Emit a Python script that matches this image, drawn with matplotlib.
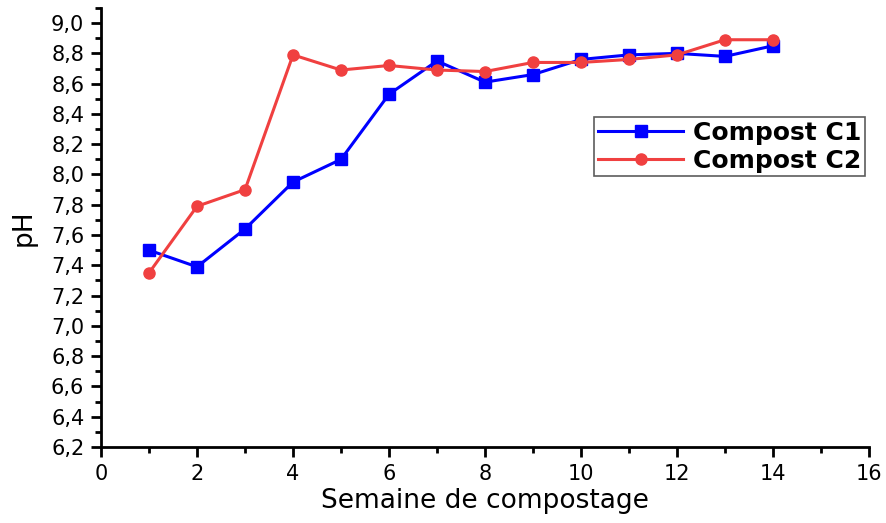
import matplotlib.pyplot as plt
from matplotlib.ticker import MultipleLocator, FuncFormatter

plt.rcParams['font.family'] = ['DejaVu Sans']

semaines = [1, 2, 3, 4, 5, 6, 7, 8, 9, 10, 11, 12, 13, 14]
ph_c1 = [7.50, 7.39, 7.64, 7.95, 8.10, 8.53, 8.75, 8.61, 8.66, 8.76, 8.79, 8.80, 8.78, 8.85]
ph_c2 = [7.35, 7.79, 7.90, 8.79, 8.69, 8.72, 8.69, 8.68, 8.74, 8.74, 8.76, 8.79, 8.89, 8.89]

fig = plt.figure(figsize=(8.87, 5.23), dpi=100)
ax = fig.add_axes([0.1139, 0.1453, 0.8658, 0.8395])

ax.plot(semaines, ph_c1, color='#0000ff', marker='s', markersize=8.5, linewidth=2.2,
        label='Compost C1')
ax.plot(semaines, ph_c2, color='#f04040', marker='o', markersize=8, linewidth=2.2,
        label='Compost C2')

ax.set_xlim(0, 16)
ax.set_ylim(6.2, 9.1)
ax.xaxis.set_major_locator(MultipleLocator(2))
ax.xaxis.set_minor_locator(MultipleLocator(1))
ax.yaxis.set_major_locator(MultipleLocator(0.2))
ax.yaxis.set_minor_locator(MultipleLocator(0.1))
ax.yaxis.set_major_formatter(FuncFormatter(lambda v, p: f'{v:.1f}'.replace('.', ',')))

for s in ['top', 'right']:
    ax.spines[s].set_visible(False)
for s in ['left', 'bottom']:
    ax.spines[s].set_linewidth(2)

ax.tick_params(which='major', direction='out', length=7, width=2, labelsize=15, pad=5)
ax.tick_params(which='minor', direction='out', length=4, width=2)

ax.set_xlabel('Semaine de compostage', fontsize=19, labelpad=3)
ax.set_ylabel('pH', fontsize=19, labelpad=10)

leg = ax.legend(loc='upper right', bbox_to_anchor=(0.995, 0.7515),
                prop={'weight': 'bold', 'size': 18}, frameon=True, fancybox=False,
                edgecolor='#333333', borderpad=0.15, handlelength=3.4,
                handletextpad=0.4, labelspacing=0.15, borderaxespad=0)
leg.get_frame().set_linewidth(1.2)

fig.savefig('out.png', dpi=100)
